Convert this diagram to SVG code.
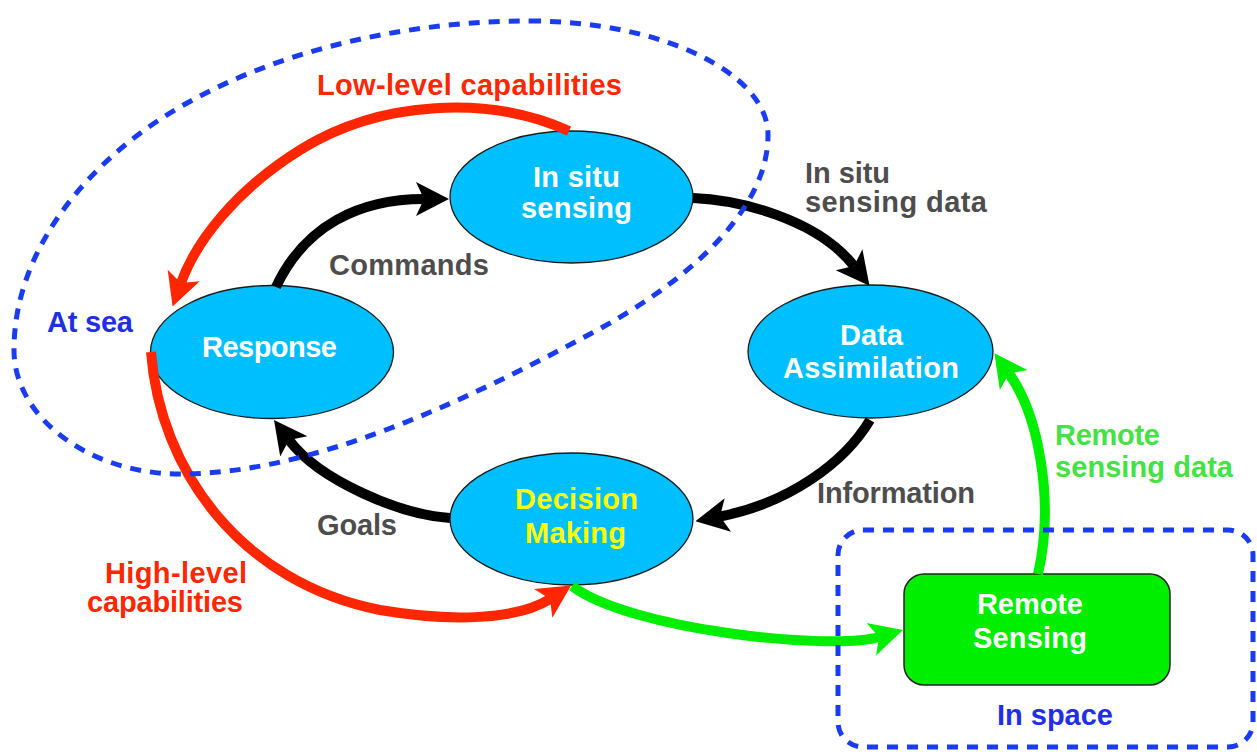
<svg xmlns="http://www.w3.org/2000/svg" width="1257" height="752" viewBox="0 0 1257 752">
<style>
text{font-family:"Liberation Sans",Arial,sans-serif;font-weight:bold;font-size:29px;}
.node{fill:#00bfff;stroke:#1a1a1a;stroke-width:1.3;}
.wt{fill:#ffffff;}
.yt{fill:#ffff00;}
.gt{fill:#4d4d4d;}
.rt{fill:#ff2600;}
.bt{fill:#1f2fe8;}
.lg{fill:#44e244;}
.conn{fill:none;stroke-width:10;}
.k{stroke:#000000;}
.r{stroke:#ff2600;}
.g{stroke:#00ee00;}
.dash{fill:none;stroke:#1a3cf0;stroke-width:5;stroke-dasharray:11 9;}
</style>
<defs>
<marker id="ak" markerUnits="userSpaceOnUse" viewBox="0 -20 40 40" markerWidth="40" markerHeight="40" refX="8" refY="0" orient="auto"><path d="M0,-17 L33,0 L0,17 L8,0 Z" fill="#000000"/></marker>
<marker id="ar" markerUnits="userSpaceOnUse" viewBox="0 -20 40 40" markerWidth="40" markerHeight="40" refX="8" refY="0" orient="auto"><path d="M0,-17 L33,0 L0,17 L8,0 Z" fill="#ff2600"/></marker>
<marker id="ag" markerUnits="userSpaceOnUse" viewBox="0 -20 40 40" markerWidth="40" markerHeight="40" refX="8" refY="0" orient="auto"><path d="M0,-17 L33,0 L0,17 L8,0 Z" fill="#00ee00"/></marker>
</defs>
<rect width="1257" height="752" fill="#ffffff"/>

<g id="insitu">
<ellipse class="node" cx="571.5" cy="197" rx="121.5" ry="66"/>
<text class="wt" x="533" y="187" textLength="87" lengthAdjust="spacing">In situ</text>
<text class="wt" x="521" y="218" textLength="111" lengthAdjust="spacing">sensing</text>
</g>
<g id="response">
<ellipse class="node" cx="272" cy="352" rx="121.5" ry="66.5"/>
<text class="wt" x="202" y="357" textLength="135" lengthAdjust="spacing">Response</text>
</g>
<g id="assimilation">
<ellipse class="node" cx="870.5" cy="351.5" rx="122.5" ry="66.5"/>
<text class="wt" x="840" y="345" textLength="63" lengthAdjust="spacing">Data</text>
<text class="wt" x="783" y="378" textLength="176" lengthAdjust="spacing">Assimilation</text>
</g>
<g id="decision">
<ellipse class="node" cx="571.5" cy="519" rx="121.5" ry="66"/>
<text class="yt" x="515" y="509" textLength="123" lengthAdjust="spacing">Decision</text>
<text class="yt" x="525" y="543" textLength="101" lengthAdjust="spacing">Making</text>
</g>
<g id="remotesensing">
<rect x="904" y="574" width="266" height="111" rx="20" ry="20" fill="#00ee00" stroke="#222222" stroke-width="1.5"/>
<text class="wt" x="977" y="614" textLength="106" lengthAdjust="spacing">Remote</text>
<text class="wt" x="973" y="648" textLength="114" lengthAdjust="spacing">Sensing</text>
</g>

<g id="connectors">
<path class="conn k" d="M276,287 C305,225 360,199 424,199" marker-end="url(#ak)"/>
<path class="conn k" d="M693,198 C740,200 817,219 854,266" marker-end="url(#ak)"/>
<path class="conn k" d="M870,420 C845,462 790,503 720,516.5" marker-end="url(#ak)"/>
<path class="conn k" d="M450,518 C400,515 319,480 289,440" marker-end="url(#ak)"/>
<path class="conn r" d="M569,131 C490,95 380,100 300,150 C236,190 196,241 181,283" marker-end="url(#ar)"/>
<path class="conn r" d="M151,352 C160,470 240,582 380,610 C450,622 517,620 550,599" marker-end="url(#ar)"/>
<path class="conn g" d="M572,586 C630,630 831,651 879,637" marker-end="url(#ag)"/>
<path class="conn g" d="M1038,574 C1055,500 1038,414 1009,373.5" marker-end="url(#ag)"/>
</g>

<g id="atsea">
<path class="dash" d="M530,21 C661,21 768,73 768,135 C768,210 689,281 592,333 C460,404 310,474 180,474 C90,474 14,418 14,350 C14,240 102,149 189,102 C293.5,44 420,21 530,21 Z"/>
<text class="bt" x="47" y="332" textLength="86" lengthAdjust="spacing">At sea</text>
</g>
<g id="inspace">
<rect class="dash" x="838" y="530" width="415" height="217" rx="25" ry="25"/>
<text class="bt" x="997" y="725" textLength="116" lengthAdjust="spacing">In space</text>
</g>

<g id="labels">
<text class="rt" x="317" y="95" textLength="305" lengthAdjust="spacing">Low-level capabilities</text>
<text class="gt" x="329" y="275" textLength="160" lengthAdjust="spacing">Commands</text>
<text class="gt" x="805" y="183" textLength="85" lengthAdjust="spacing">In situ</text>
<text class="gt" x="805" y="212" textLength="182" lengthAdjust="spacing">sensing data</text>
<text class="gt" x="817" y="503" textLength="158" lengthAdjust="spacing">Information</text>
<text class="gt" x="317" y="535" textLength="80" lengthAdjust="spacing">Goals</text>
<text class="rt" x="105" y="583" textLength="142" lengthAdjust="spacing">High-level</text>
<text class="rt" x="87" y="612" textLength="156" lengthAdjust="spacing">capabilities</text>
<text class="lg" x="1055" y="445" textLength="105" lengthAdjust="spacing">Remote</text>
<text class="lg" x="1055" y="477" textLength="178" lengthAdjust="spacing">sensing data</text>
</g>
</svg>
